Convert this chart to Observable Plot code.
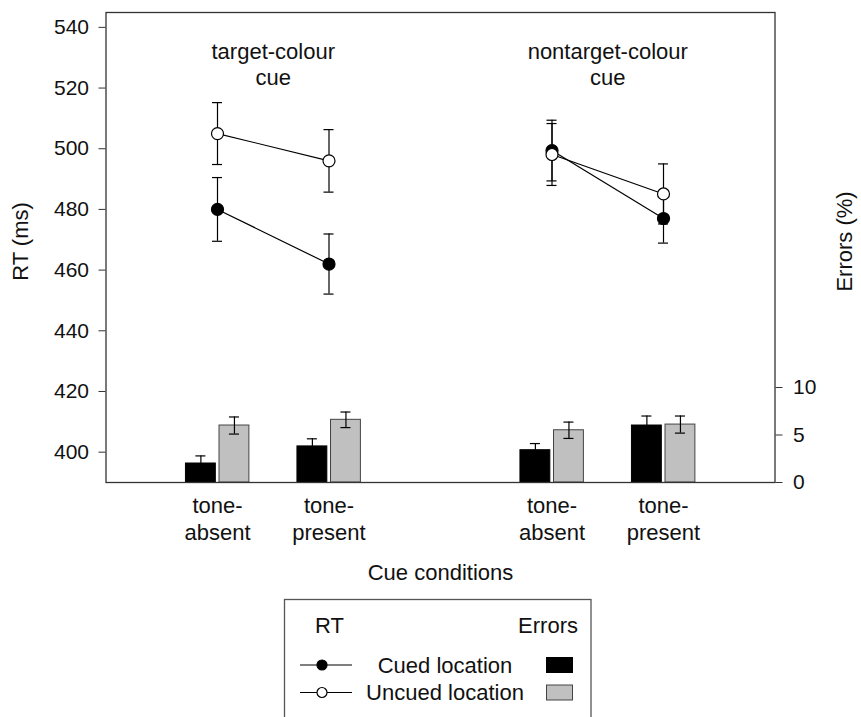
<!DOCTYPE html>
<html><head><meta charset="utf-8">
<script src="https://cdn.jsdelivr.net/npm/d3@7"></script>
<script src="https://cdn.jsdelivr.net/npm/@observablehq/plot@0.6"></script>
<style>
body{margin:0;background:#fff;font-family:"Liberation Sans",Arial,Helvetica,sans-serif;}
#wrap{width:861px;height:717px;overflow:hidden;background:#fff;}
#wrap svg{display:block;}
</style></head><body><div id="wrap"></div>
<script>
// ---- data ----
const cueTypes = ["target-colour\ncue", "nontarget-colour\ncue"];
const toneConditions = ["tone-\nabsent", "tone-\npresent"];
const seriesNames = ["Cued location", "Uncued location"];
// RT (ms), order: target-absent, target-present, nontarget-absent, nontarget-present
const rtCued = [480, 462, 499.4, 477];
const rtCuedSE = [10.5, 9.9, 10, 8.1];
const rtUncued = [505, 496, 498.1, 485.1];
const rtUncuedSE = [10.2, 10.3, 10.2, 9.9];
// Errors (%)
const errCued = [2.0, 3.8, 3.4, 6.0];
const errCuedSE = [0.8, 0.8, 0.7, 1.0];
const errUncued = [6.0, 6.6, 5.5, 6.1];
const errUncuedSE = [0.9, 0.82, 0.86, 0.9];
const rtTicks = [400, 420, 440, 460, 480, 500, 520, 540];
const errTicks = [0, 5, 10];

// ---- layout helpers ----
const rtMin = 390, rtMax = 544.9;
const msPerPct = 3.13; // right axis: 1 % ↔ 3.13 ms
const toRT = e => rtMin + e * msPerPct;
const fromRT = v => Math.round((v - rtMin) / msPerPct);

const rows = [];
cueTypes.forEach((cue, g) => toneConditions.forEach((tone, c) => {
  const i = g * 2 + c;
  rows.push({i, g, c, pos: 1 + 3 * g + c, label: tone,
    rtC: rtCued[i], rtCse: rtCuedSE[i], rtU: rtUncued[i], rtUse: rtUncuedSE[i],
    eC: errCued[i], eCse: errCuedSE[i], eU: errUncued[i], eUse: errUncuedSE[i]});
}));
const titles = cueTypes.map((t, g) => ({t, pos: 1.5 + 3 * g}));

const bw = 0.268, cap = 0.045;
const blackL = d => d.pos - 0.283, greyL = d => d.pos + 0.018;
const blackC = d => blackL(d) + bw / 2, greyC = d => greyL(d) + bw / 2;

const font = '"Liberation Sans", Arial, Helvetica, sans-serif';

const chart = Plot.plot({
  width: 861, height: 598,
  marginLeft: 105.5, marginRight: 86.5, marginTop: 12, marginBottom: 116,
  style: {fontFamily: font, fontSize: "21px", color: "#111", background: "#fff"},
  x: {domain: [0, 6], axis: null},
  y: {domain: [rtMin, rtMax], axis: null},
  marks: [
    // error bars (bars)
    Plot.rect(rows, {x1: blackL, x2: d => blackL(d) + bw, y1: () => rtMin, y2: d => toRT(d.eC), fill: "#000", stroke: "#000", strokeWidth: 1}),
    Plot.rect(rows, {x1: greyL, x2: d => greyL(d) + bw, y1: () => rtMin, y2: d => toRT(d.eU), fill: "#c0c0c0", stroke: "#444", strokeWidth: 1}),
    Plot.ruleX(rows, {x: blackC, y1: d => toRT(d.eC - d.eCse), y2: d => toRT(d.eC + d.eCse), stroke: "#000", strokeWidth: 1.2}),
    Plot.ruleY(rows, {y: d => toRT(d.eC + d.eCse), x1: d => blackC(d) - cap, x2: d => blackC(d) + cap, stroke: "#000", strokeWidth: 1.2}),
    Plot.ruleX(rows, {x: greyC, y1: d => toRT(d.eU - d.eUse), y2: d => toRT(d.eU + d.eUse), stroke: "#000", strokeWidth: 1.2}),
    Plot.ruleY(rows, {y: d => toRT(d.eU + d.eUse), x1: d => greyC(d) - cap, x2: d => greyC(d) + cap, stroke: "#000", strokeWidth: 1.2}),
    Plot.ruleY(rows, {y: d => toRT(d.eU - d.eUse), x1: d => greyC(d) - cap, x2: d => greyC(d) + cap, stroke: "#000", strokeWidth: 1.2}),
    Plot.frame({stroke: "#333", strokeWidth: 1.3}),
    // RT lines
    Plot.line(rows, {x: "pos", y: "rtC", z: "g", stroke: "#000", strokeWidth: 1.2}),
    Plot.line(rows, {x: "pos", y: "rtU", z: "g", stroke: "#000", strokeWidth: 1.2}),
    // RT error bars
    Plot.ruleX(rows, {x: "pos", y1: d => d.rtC - d.rtCse, y2: d => d.rtC + d.rtCse, stroke: "#000", strokeWidth: 1.2}),
    Plot.ruleY(rows, {y: d => d.rtC - d.rtCse, x1: d => d.pos - cap, x2: d => d.pos + cap, stroke: "#000", strokeWidth: 1.2}),
    Plot.ruleY(rows, {y: d => d.rtC + d.rtCse, x1: d => d.pos - cap, x2: d => d.pos + cap, stroke: "#000", strokeWidth: 1.2}),
    Plot.ruleX(rows, {x: "pos", y1: d => d.rtU - d.rtUse, y2: d => d.rtU + d.rtUse, stroke: "#000", strokeWidth: 1.2}),
    Plot.ruleY(rows, {y: d => d.rtU - d.rtUse, x1: d => d.pos - cap, x2: d => d.pos + cap, stroke: "#000", strokeWidth: 1.2}),
    Plot.ruleY(rows, {y: d => d.rtU + d.rtUse, x1: d => d.pos - cap, x2: d => d.pos + cap, stroke: "#000", strokeWidth: 1.2}),
    // dots
    Plot.dot(rows, {x: "pos", y: "rtC", r: 6, fill: "#000", stroke: "#000", strokeWidth: 1.2}),
    Plot.dot(rows, {x: "pos", y: "rtU", r: 6, fill: "#fff", stroke: "#000", strokeWidth: 1.2}),
    // axes
    Plot.axisY({anchor: "left", ticks: rtTicks, tickSize: 7, tickPadding: 10, label: null, fontSize: 21, stroke: "#333"}),
    Plot.axisY({anchor: "right", ticks: errTicks.map(toRT), tickFormat: fromRT, tickSize: 7, tickPadding: 11, label: null, fontSize: 21, stroke: "#333"}),
    Plot.text(["RT (ms)"], {frameAnchor: "left", textAnchor: "middle", rotate: -90, dx: -85, dy: -6, fontSize: 22, fill: "#111"}),
    Plot.text(["Errors (%)"], {frameAnchor: "right", textAnchor: "middle", rotate: -90, dx: 70, dy: -6, fontSize: 22, fill: "#111"}),
    // category labels
    Plot.text(rows, {x: "pos", frameAnchor: "bottom", text: "label", lineAnchor: "top", dy: 12, lineHeight: 1.2, fontSize: 22, fill: "#111"}),
    Plot.text(["Cue conditions"], {frameAnchor: "bottom", dy: 97, fontSize: 22, fill: "#111"}),
    // group titles
    Plot.text(titles, {x: "pos", frameAnchor: "top", text: "t", lineAnchor: "top", dy: 29, lineHeight: 1.15, fontSize: 22, fill: "#111"})
  ]
});
document.getElementById("wrap").appendChild(chart);

// ---- legend (below the plot) ----
const lg = d3.create("svg").attr("width", 861).attr("height", 119)
  .style("font-family", font).style("font-size", "22px");
lg.append("rect").attr("x", 284.5).attr("y", 1.5).attr("width", 306.5).attr("height", 140)
  .attr("fill", "none").attr("stroke", "#555").attr("stroke-width", 1.3);
lg.append("text").attr("x", 315).attr("y", 35).attr("fill", "#111").text("RT");
lg.append("text").attr("x", 578).attr("y", 35).attr("text-anchor", "end").attr("fill", "#111").text("Errors");
const legendRows = [
  {name: seriesNames[0], dot: "#000", sw: "#000", swStroke: "#000", y: 67, base: 75},
  {name: seriesNames[1], dot: "#fff", sw: "#c0c0c0", swStroke: "#444", y: 94.5, base: 102}
];
legendRows.forEach(r => {
  lg.append("line").attr("x1", 300).attr("x2", 352).attr("y1", r.y).attr("y2", r.y).attr("stroke", "#000").attr("stroke-width", 1.2);
  lg.append("circle").attr("cx", 322).attr("cy", r.y).attr("r", 5).attr("fill", r.dot).attr("stroke", "#000").attr("stroke-width", 1.2);
  lg.append("text").attr("x", 445).attr("y", r.base).attr("text-anchor", "middle").attr("fill", "#111").text(r.name);
  lg.append("rect").attr("x", 546.5).attr("y", r.y - 7.5).attr("width", 26).attr("height", 15).attr("fill", r.sw).attr("stroke", r.swStroke).attr("stroke-width", 1);
});
document.getElementById("wrap").appendChild(lg.node());
</script>
</body></html>
